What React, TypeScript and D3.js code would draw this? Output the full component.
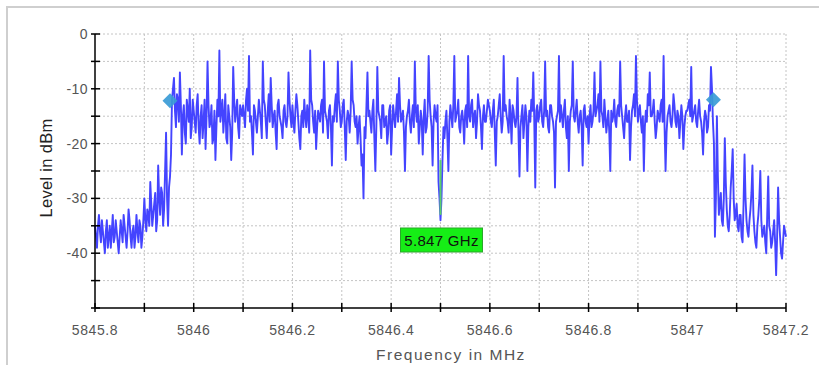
import * as d3 from "d3";

// sweep: 5845.8 .. 5847.2 MHz, one reading every 2 kHz
const startMHz = 5845.8;
const stepMHz = 0.004; // spacing of the main readings; half-step readings sit between them

// levels in dBm at the main readings, one array per 0.1 MHz
const seg0 = [-35, -39, -33, -38, -36, -40, -34, -37, -39, -33, -37, -36, -40, -34, -38, -35, -39, -32, -37, -36, -39, -33, -38, -35, -37];
const seg1 = [-30, -36, -33, -27, -35, -31, -36, -24, -33, -29, -32, -18, -35, -26, -12, -8, -17, -12, -7, -22, -13, -20, -14, -10, -17];
const seg2 = [-14, -18, -11, -20, -13, -16, -21, -5, -17, -13, -19, -23, -12, -3, -14, -18, -11, -20, -15, -23, -6, -16, -12, -19, -14];
const seg3 = [-13, -17, -10, -4, -15, -22, -14, -18, -12, -16, -5, -13, -19, -11, -8, -17, -14, -21, -12, -16, -19, -13, -17, -7, -15];
const seg4 = [-13, -18, -11, -16, -21, -14, -12, -17, -15, -3, -13, -18, -21, -14, -16, -12, -5, -15, -19, -13, -24, -16, -11, -5, -14];
const seg5 = [-16, -12, -23, -14, -18, -5, -13, -17, -20, -15, -24, -30, -19, -7, -14, -18, -12, -25, -6, -15, -19, -13, -16, -20, -14];
const seg6 = [-22, -13, -17, -11, -8, -16, -14, -25, -15, -12, -18, -13, -5, -16, -20, -14, -22, -12, -17, -4, -15, -24, -13, -16, -27];
const seg7 = [-34, -23, -19, -14, -25, -13, -17, -4, -15, -12, -18, -14, -20, -13, -4, -16, -12, -15, -19, -11, -14, -21, -13, -16, -12];
const seg8 = [-14, -17, -12, -24, -15, -11, -18, -4, -13, -16, -12, -20, -14, -17, -8, -26, -15, -19, -13, -25, -14, -12, -7, -28, -13];
const seg9 = [-15, -12, -17, -5, -14, -18, -13, -16, -28, -15, -4, -13, -17, -12, -19, -25, -14, -5, -16, -12, -18, -14, -24, -13, -17];
const seg10 = [-20, -13, -16, -7, -14, -11, -5, -15, -12, -18, -14, -25, -16, -12, -17, -13, -5, -15, -19, -13, -16, -23, -14, -11, -4];
const seg11 = [-16, -13, -18, -25, -14, -11, -7, -15, -12, -19, -14, -16, -12, -4, -25, -15, -13, -17, -11, -16, -14, -19, -13, -21, -15];
const seg12 = [-14, -12, -6, -15, -13, -17, -12, -16, -22, -14, -18, -13, -6, -16, -37, -15, -33, -29, -35, -19, -32, -36, -28, -21, -34];
const seg13 = [-31, -36, -33, -38, -22, -34, -37, -32, -24, -36, -39, -33, -25, -37, -35, -40, -26, -36, -38, -34, -44, -28, -37, -41, -35, -37];

// levels in dBm at the half-step readings, same grouping
const half0 = [-37, -35, -36, -34, -38, -36, -39, -35, -36, -38, -34, -38, -37, -36, -33, -37, -36, -34, -39, -35, -37, -36, -34, -39, -34];
const half1 = [-34, -32, -35, -31, -33, -29, -34, -30, -28, -35, -25, -30, -28, -22, -10, -14, -11, -16, -13, -15, -18, -12, -16, -19, -12];
const half2 = [-16, -13, -17, -15, -19, -12, -15, -13, -16, -20, -14, -17, -15, -16, -12, -15, -19, -13, -17, -18, -12, -14, -17, -13, -15];
const half3 = [-15, -12, -14, -16, -18, -13, -16, -15, -14, -19, -12, -16, -14, -16, -13, -15, -18, -13, -15, -17, -14, -16, -15, -12, -17];
const half4 = [-16, -14, -13, -19, -15, -17, -15, -13, -18, -12, -16, -14, -17, -15, -13, -18, -14, -16, -14, -17, -15, -13, -16, -12, -17];
const half5 = [-13, -17, -16, -15, -14, -12, -16, -15, -17, -19, -22, -17, -13, -15, -16, -14, -19, -17, -14, -16, -13, -17, -15, -18, -13];
const half6 = [-17, -15, -14, -16, -13, -15, -18, -17, -14, -16, -15, -17, -14, -13, -17, -16, -15, -18, -14, -12, -17, -16, -15, -13, -30];
const half7 = [-30, -17, -16, -19, -16, -15, -13, -16, -14, -17, -15, -16, -14, -17, -15, -13, -17, -14, -16, -13, -17, -15, -16, -14, -13];
const half8 = [-16, -14, -18, -16, -13, -15, -16, -14, -15, -18, -15, -13, -16, -15, -18, -17, -13, -16, -15, -17, -16, -14, -16, -14, -16];
const half9 = [-13, -16, -14, -15, -17, -13, -15, -18, -16, -14, -16, -15, -14, -17, -15, -16, -13, -15, -14, -16, -15, -17, -14, -16, -15];
const half10 = [-15, -17, -14, -15, -13, -16, -14, -17, -15, -16, -18, -14, -15, -16, -14, -15, -13, -17, -15, -16, -14, -17, -13, -15, -12];
const half11 = [-14, -16, -15, -17, -16, -13, -15, -14, -16, -17, -15, -13, -16, -17, -18, -14, -16, -15, -13, -17, -15, -16, -15, -17, -14];
const half12 = [-13, -15, -16, -14, -16, -14, -15, -18, -16, -15, -17, -14, -10, -20, -30, -26, -31, -34, -30, -27, -35, -33, -25, -30, -33];
const half13 = [-35, -33, -37, -31, -30, -36, -34, -29, -33, -38, -35, -30, -34, -36, -38, -33, -35, -39, -36, -38, -37, -34, -40, -38, -36];

const mainSegs = [seg0, seg1, seg2, seg3, seg4, seg5, seg6, seg7, seg8, seg9, seg10, seg11, seg12, seg13];
const halfSegs = [half0, half1, half2, half3, half4, half5, half6, half7, half8, half9, half10, half11, half12, half13];

// band-edge markers (MHz, dBm)
const edgeFreqs = [5845.952, 5847.053];
const edgeLevels = [-12.2, -12.0];

// centre marker
const centreFreq = 5846.5;
const centreTop = -23;
const centreBottom = -33;
const centreLabel = "5.847 GHz";

const xTicks = d3.range(0, 15).map((i) => +(5845.8 + i * 0.1).toFixed(1));
const xLabels = ["5845.8", "5846", "5846.2", "5846.4", "5846.6", "5846.8", "5847", "5847.2"];
const yTicks = [0, -5, -10, -15, -20, -25, -30, -35, -40, -45, -50];
const yLabels = [0, -10, -20, -30, -40];

type Pt = { f: number; v: number };

export default function App() {
  const width = 819;
  const height = 365;
  const x = d3.scaleLinear().domain([5845.8, 5847.2]).range([95, 786]);
  const y = d3.scaleLinear().domain([-50, 0]).range([308, 34]);

  const data: Pt[] = [];
  mainSegs.forEach((seg, k) => {
    seg.forEach((v, j) => data.push({ f: startMHz + (k * 25 + j) * stepMHz, v }));
  });
  halfSegs.forEach((seg, k) => {
    seg.forEach((v, j) => data.push({ f: startMHz + (k * 25 + j + 0.5) * stepMHz, v }));
  });
  data.sort((a, b) => a.f - b.f);

  const line = d3
    .line<Pt>()
    .x((d) => x(d.f))
    .y((d) => y(d.v));

  const font = "'Liberation Sans', Arial, sans-serif";
  const labelX = xLabels.map(Number);

  return (
    <svg
      width={width}
      height={height}
      style={{ position: "absolute", left: 0, top: 0, background: "#fff" }}
      fontFamily={font}
    >
      <rect x={7} y={7} width={830} height={380} fill="none" stroke="#cfcfcf" strokeWidth={2} />

      {/* grid */}
      {xTicks.slice(1).map((t) => (
        <line key={"gx" + t} x1={x(t)} x2={x(t)} y1={y(0)} y2={y(-50)} stroke="#c4c4c4" strokeDasharray="2,2" />
      ))}
      {yTicks.slice(0, -1).map((t) => (
        <line key={"gy" + t} x1={x(5845.8)} x2={x(5847.2)} y1={y(t)} y2={y(t)} stroke="#c4c4c4" strokeDasharray="2,2" />
      ))}

      {/* trace */}
      <path d={line(data) ?? undefined} fill="none" stroke="#4444ff" strokeWidth={1.9} strokeLinejoin="round" />

      {/* centre marker */}
      <line x1={x(centreFreq)} x2={x(centreFreq)} y1={y(centreTop)} y2={y(centreBottom)} stroke="#5ccf6a" strokeWidth={2} />
      <rect x={x(centreFreq) - 40} y={228} width={82} height={24} fill="#16ee16" stroke="#2aa82a" strokeWidth={1} />
      <text x={x(centreFreq) + 1} y={246} textAnchor="middle" fontSize={15} fill="#111" letterSpacing={0.3}>
        {centreLabel}
      </text>

      {/* edge markers */}
      {edgeFreqs.map((f, i) => {
        const cx = x(f);
        const cy = y(edgeLevels[i]);
        return (
          <path
            key={"e" + i}
            d={`M${cx},${cy - 7.5}L${cx + 7.5},${cy}L${cx},${cy + 7.5}L${cx - 7.5},${cy}Z`}
            fill="#3a9bd6"
            opacity={0.92}
          />
        );
      })}

      {/* axes */}
      <line x1={x(5845.8)} x2={x(5845.8)} y1={y(0)} y2={y(-50)} stroke="#000" strokeWidth={1.5} />
      <line x1={x(5845.8)} x2={x(5847.2)} y1={y(-50)} y2={y(-50)} stroke="#000" strokeWidth={1.5} />
      {yTicks.map((t) => (
        <line key={"ty" + t} x1={x(5845.8) - 4} x2={x(5845.8) + 5} y1={y(t)} y2={y(t)} stroke="#000" strokeWidth={1.5} />
      ))}
      {xTicks.map((t) => (
        <line key={"tx" + t} x1={x(t)} x2={x(t)} y1={y(-50) - 5} y2={y(-50) + 4} stroke="#000" strokeWidth={1.5} />
      ))}

      {yLabels.map((t) => (
        <text key={"ly" + t} x={88} y={y(t) + 5} textAnchor="end" fontSize={14} fill="#555" letterSpacing={0.4}>
          {t}
        </text>
      ))}
      {labelX.map((t, i) => (
        <text key={"lx" + t} x={x(t)} y={335} textAnchor="middle" fontSize={14} fill="#555" letterSpacing={0.6}>
          {xLabels[i]}
        </text>
      ))}

      <text
        transform={`translate(52,168) rotate(-90)`}
        textAnchor="middle"
        fontSize={16.5}
        fill="#222"
        letterSpacing={0.3}
      >
        Level in dBm
      </text>
      <text x={451} y={360} textAnchor="middle" fontSize={15.5} fill="#555" letterSpacing={1.5}>
        Frequency in MHz
      </text>
    </svg>
  );
}
